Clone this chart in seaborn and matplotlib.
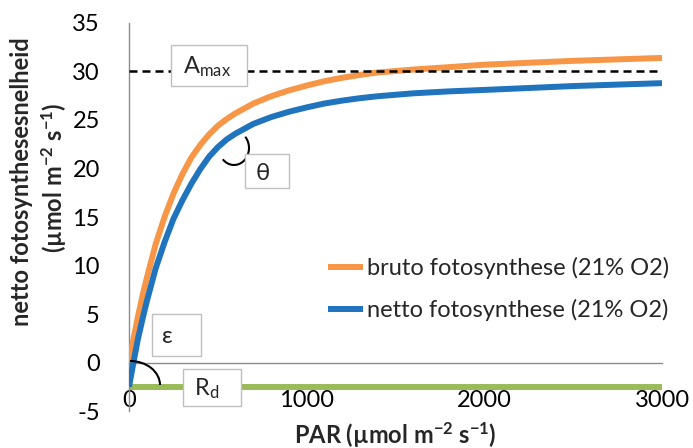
import numpy as np
import pandas as pd
import matplotlib
matplotlib.use("Agg")
import matplotlib.pyplot as plt
import matplotlib.transforms as mtrans
from matplotlib.patches import Arc, Rectangle
import seaborn as sns

# ---- data ----
par = [0, 25, 50, 75, 100, 150, 200, 250, 300, 350, 400, 450, 500, 550, 600, 700, 800,
       900, 1000, 1100, 1200, 1300, 1400, 1600, 1800, 2000, 2250, 2500, 2750, 3000]
bruto = [0.0, 2.4, 4.7, 6.8, 8.7, 12.2, 15.0, 17.4, 19.4, 21.1, 22.4, 23.5, 24.4,
         25.1, 25.7, 26.7, 27.45, 28.05, 28.55, 29.0, 29.35, 29.65, 29.9, 30.2, 30.45,
         30.7, 30.9, 31.1, 31.25, 31.4]
netto = [-2.5, 0.0, 2.4, 4.4, 6.3, 9.7, 12.4, 14.8, 16.7, 18.4, 19.9, 21.2, 22.2,
         23.0, 23.6, 24.6, 25.3, 25.85, 26.3, 26.7, 27.0, 27.25, 27.45, 27.75, 27.95,
         28.1, 28.3, 28.5, 28.65, 28.8]
rd_par = [0, 3000]
rd_values = [-2.5, -2.5]
amax_par = [0, 3000]
amax_values = [30, 30]
series_labels = ["bruto fotosynthese (21% O2)", "netto fotosynthese (21% O2)"]
x_ticks = [0, 1000, 2000, 3000]
y_ticks = [-5, 0, 5, 10, 15, 20, 25, 30, 35]

sns.set_style("white")
plt.rcParams["font.family"] = ["Lato", "DejaVu Sans"]
plt.rcParams["mathtext.fontset"] = "custom"
plt.rcParams["mathtext.rm"] = "Lato"
plt.rcParams["mathtext.it"] = "Lato:italic"
plt.rcParams["mathtext.bf"] = "Lato:bold"
plt.rcParams["axes.unicode_minus"] = False

W, H = 693, 448
fig = plt.figure(figsize=(W / 100, H / 100), dpi=100)
ax = fig.add_axes([129 / W, 1 - 411 / H, (662 - 129) / W, (411 - 23) / H])

orange = "#F79646"
blue = "#1F74BD"
green = "#9BBB59"

df = pd.DataFrame({
    "PAR": par + par,
    "value": bruto + netto,
    "series": [series_labels[0]] * len(par) + [series_labels[1]] * len(par),
})
df_rd = pd.DataFrame({"PAR": rd_par, "value": rd_values})
df_amax = pd.DataFrame({"PAR": amax_par, "value": amax_values})

sns.lineplot(data=df_rd, x="PAR", y="value", color=green, lw=4.3, ax=ax,
             legend=False, zorder=2)
sns.lineplot(data=df, x="PAR", y="value", hue="series",
             palette=[orange, blue], lw=4.3, ax=ax, estimator=None, zorder=3,
             solid_joinstyle="round", solid_capstyle="butt")
sns.lineplot(data=df_amax, x="PAR", y="value", color="black", lw=1.8, ax=ax,
             legend=False, zorder=4)
ax.lines[-1].set_dashes((3.2, 2.0))

ax.set_xlim(0, 3000)
ax.set_ylim(-5, 35)
ax.set_xticks(x_ticks)
ax.set_yticks(y_ticks)
ax.set_xlabel("")
ax.set_ylabel("")
for s in ["top", "right"]:
    ax.spines[s].set_visible(False)
for s in ["left", "bottom"]:
    ax.spines[s].set_color("#8C8C8C")
    ax.spines[s].set_linewidth(1.0)
ax.spines["bottom"].set_position(("data", 0))
ax.tick_params(axis="both", direction="out", length=8, width=1.0,
               color="#8C8C8C", labelsize=17, labelcolor="black")
ax.tick_params(axis="x", pad=12)
ax.tick_params(axis="y", pad=13)

# legend
handles, labels = ax.get_legend_handles_labels()
ax.legend(handles, labels, loc="center left",
          bbox_to_anchor=(328 / W, 1 - 289 / H), bbox_transform=fig.transFigure,
          frameon=False, handlelength=1.5, handletextpad=0.15, labelspacing=0.85,
          borderpad=0, borderaxespad=0, fontsize=17)

# axis titles
fig.text(395 / W, 1 - 434 / H, r"PAR (µmol m$^{\mathbf{-2}}$ s$^{\mathbf{-1}}$)",
         ha="center", va="center", fontsize=17, fontweight="bold")
fig.text(22 / W, 1 - 182 / H, "netto fotosynthesesnelheid", rotation=90,
         ha="center", va="center", fontsize=17, fontweight="bold")
fig.text(53 / W, 1 - 178 / H, r"(µmol m$^{\mathbf{-2}}$ s$^{\mathbf{-1}}$)", rotation=90,
         ha="center", va="center", fontsize=17, fontweight="bold")

ident = mtrans.IdentityTransform()

def box(x0, y0, x1, y1):
    r = Rectangle((x0, H - y1), x1 - x0, y1 - y0, transform=ident,
                  facecolor="white", edgecolor="#BFBFBF", lw=1.0,
                  zorder=6, clip_on=False)
    fig.add_artist(r)

def label(x, y, s):
    fig.text(x / W, 1 - y / H, s, ha="left", va="center", fontsize=17, zorder=7,
             family=["Lato", "DejaVu Sans"])

box(171, 45, 247, 86)
label(183, 67, r"A$_{\mathrm{max}}$")
box(245, 154, 289, 188)
label(256, 173, "θ")
box(152, 314, 201, 356)
label(162, 336, "ε")
box(183, 369, 241, 406)
label(194, 389, r"R$_{\mathrm{d}}$")

fig.add_artist(Arc((234, H - 148), 30, 34, theta1=225, theta2=405,
                   transform=ident, color="black", lw=1.5, zorder=5))
fig.add_artist(Arc((130, H - 385), 60, 48, theta1=0, theta2=90,
                   transform=ident, color="black", lw=1.5, zorder=5))

fig.savefig("out.png", dpi=100)
